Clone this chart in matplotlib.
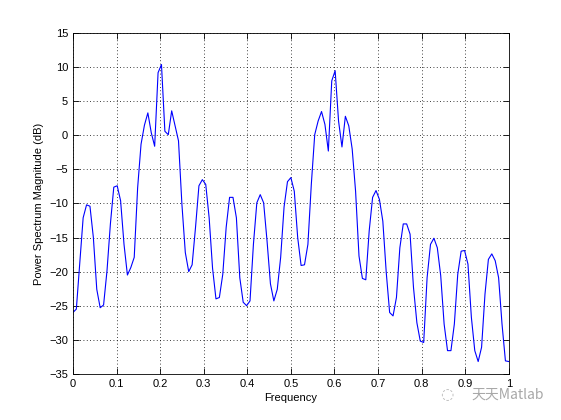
import numpy as np
import matplotlib
matplotlib.use('Agg')
import matplotlib.pyplot as plt

# 功率谱数据 (归一化频率 0..1, 步长 1/128)
freq = np.arange(129) / 128
psd_db = [
    -26.0, -25.5, -18.9, -12.1, -10.2, -10.4, -15.0, -22.6, -25.3, -24.9,
    -19.9, -13.0, -7.6, -7.4, -9.6, -16.0, -20.5, -19.4, -17.9, -7.7,
    -1.3, 1.5, 3.3, 0.4, -1.6, 9.2, 10.4, 0.6, 0.1, 3.6,
    1.4, -0.8, -10.1, -17.2, -20.0, -19.0, -13.5, -7.4, -6.5, -7.2,
    -12.1, -19.5, -24.0, -23.8, -20.4, -13.5, -9.1, -9.1, -12.1, -20.9,
    -24.5, -25.0, -24.3, -16.0, -9.9, -8.7, -9.9, -15.5, -21.8, -24.3,
    -22.6, -17.9, -10.5, -6.8, -6.2, -8.2, -15.0, -19.1, -19.0, -16.0,
    -7.2, 0.1, 2.1, 3.5, 1.6, -2.3, 8.0, 9.5, 2.1, -1.7,
    2.8, 1.4, -2.0, -8.2, -17.7, -21.0, -21.2, -14.0, -9.1, -8.1,
    -9.4, -12.6, -20.1, -26.0, -26.5, -23.8, -16.5, -13.0, -13.0, -14.5,
    -22.3, -27.5, -30.2, -30.4, -20.9, -16.0, -15.1, -16.5, -20.6, -27.7,
    -31.6, -31.6, -27.7, -20.4, -17.0, -16.9, -18.9, -26.7, -31.6, -33.2,
    -31.1, -23.3, -18.2, -17.4, -18.4, -20.9, -27.7, -33.1, -33.2,
]
xticks = np.arange(0, 1.01, 0.1)
xtick_labels = ['0', '0.1', '0.2', '0.3', '0.4', '0.5', '0.6', '0.7', '0.8', '0.9', '1']
yticks = np.arange(-35, 16, 5)

plt.rcParams['font.family'] = ['Liberation Sans', 'DejaVu Sans']

fig = plt.figure(figsize=(5.61, 4.2), dpi=100)
ax = fig.add_axes([0.13, 0.11, 0.777, 0.811])

ax.plot(freq, psd_db, color=(0, 0, 1), linewidth=0.8)

ax.set_xlim(0, 1)
ax.set_ylim(-35, 15)
ax.set_xticks(xticks)
ax.set_xticklabels(xtick_labels)
ax.set_yticks(yticks)
ax.grid(True, color='black', linestyle=(0, (1, 3)), linewidth=0.6)
ax.tick_params(axis='both', direction='in', labelsize=8, length=4,
               top=True, right=True, width=0.6)
for s in ax.spines.values():
    s.set_linewidth(0.6)

ax.set_xlabel('Frequency', fontsize=8, labelpad=3)
ax.set_ylabel('Power Spectrum Magnitude (dB)', fontsize=8, labelpad=4)

# 水印
fig.text(0.840, 0.060, '天天Matlab', fontsize=10, color='#a8a8a8',
         family=['Noto Sans CJK SC', 'DejaVu Sans'], va='center')
fig.text(0.785, 0.060, '◌', fontsize=11, color='#b8b8b8', va='center',
         family=['DejaVu Sans'])

fig.savefig('out.png', dpi=100)
